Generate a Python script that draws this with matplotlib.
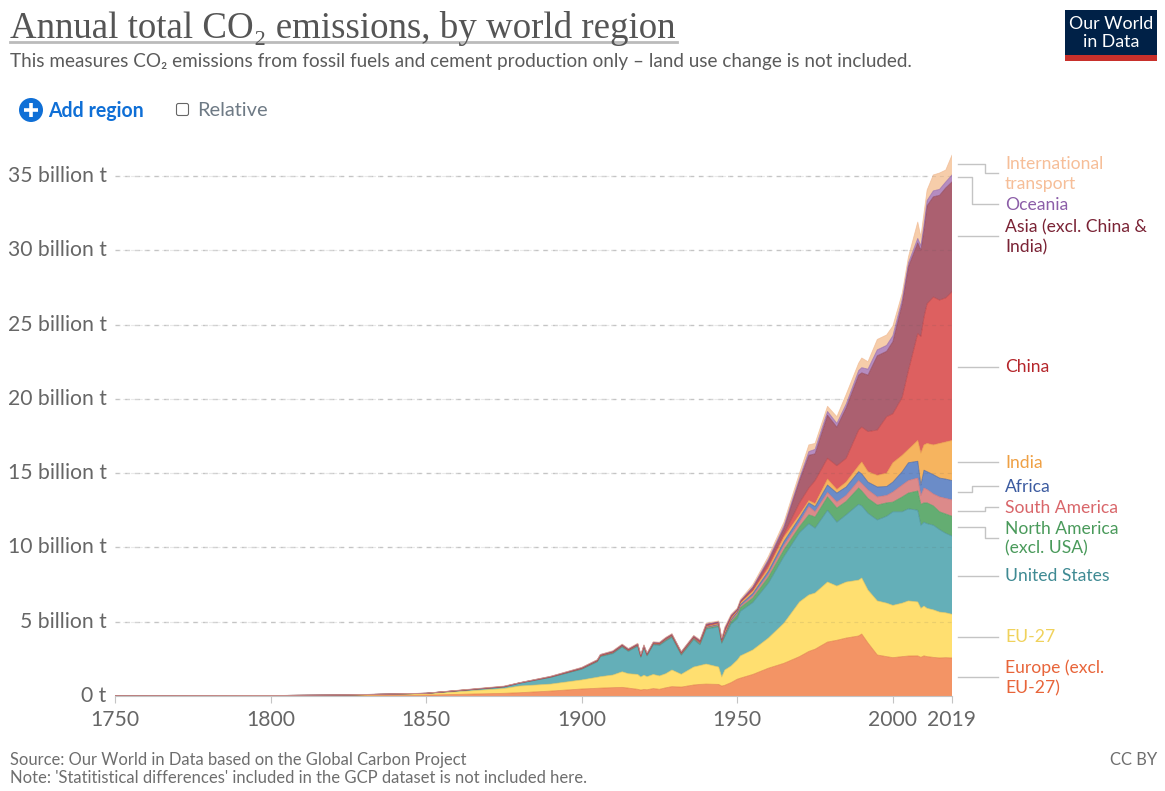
import numpy as np
import matplotlib
matplotlib.use("Agg")
import matplotlib.pyplot as plt
from matplotlib.patches import Rectangle, Circle, FancyBboxPatch
from matplotlib.transforms import ScaledTranslation

plt.rcParams['font.family'] = ['Lato', 'DejaVu Sans']

# values, billion tonnes, each list is the top edge of its band
years = [1750, 1800, 1825, 1850, 1875, 1880, 1890, 1900, 1905, 1906,
         1910, 1913, 1915, 1918, 1919, 1920, 1921, 1923, 1925, 1927,
         1929, 1932, 1936, 1938, 1940, 1944, 1945, 1946, 1948, 1950,
         1951, 1955, 1960, 1965, 1970, 1973, 1975, 1979, 1982, 1985,
         1989, 1990, 1992, 1995, 1998, 2000, 2003, 2005, 2008, 2009,
         2010, 2011, 2013, 2015, 2017, 2019]
europe = [.0, .01, .02, .06, .18, .22, .33, .47, .52, .53,
          .56, .58, .53, .45, .40, .44, .42, .5, .45, .55,
          .63, .6, .74, .78, .8, .78, .67, .72, .9, 1.13,
          1.2, 1.45, 1.87, 2.2, 2.65, 3.0, 3.15, 3.63, 3.75, 3.9,
          4.04, 4.17, 3.57, 2.76, 2.65, 2.58, 2.65, 2.69, 2.7, 2.6,
          2.7, 2.65, 2.6, 2.56, 2.58, 2.56]
eu27 = [.005, .02, .05, .14, .5, .67, .8, 1.08, 1.26, 1.3,
        1.41, 1.63, 1.5, 1.45, 1.28, 1.4, 1.3, 1.45, 1.35, 1.5,
        1.75, 1.46, 1.95, 2.05, 2.15, 1.95, 1.28, 1.75, 2.02, 2.42,
        2.7, 3.1, 3.9, 4.9, 6.33, 6.8, 6.93, 7.67, 7.4, 7.67,
        7.8, 7.94, 7.13, 6.4, 6.25, 6.1, 6.25, 6.4, 6.33, 5.9,
        6.05, 5.9, 5.8, 5.65, 5.6, 5.5]
usa = [.006, .03, .07, .18, .6, .85, 1.25, 1.8, 2.3, 2.65,
       2.85, 3.3, 3.0, 3.35, 2.6, 3.25, 2.7, 3.45, 3.4, 3.7,
       3.95, 2.75, 3.8, 3.45, 4.5, 4.65, 3.55, 4.0, 4.85, 5.2,
       5.7, 6.3, 7.6, 9.4, 11.0, 11.6, 11.3, 12.5, 11.7, 12.2,
       12.9, 12.8, 12.3, 11.85, 12.1, 12.4, 12.4, 12.6, 12.5, 11.5,
       11.7, 11.6, 11.5, 11.2, 10.95, 10.77]
north_america = [.006, .03, .07, .18, .62, .87, 1.27, 1.82, 2.33, 2.68,
                 2.89, 3.34, 3.04, 3.39, 2.64, 3.29, 2.74, 3.49, 3.45, 3.75,
                 4.0, 2.8, 3.85, 3.5, 4.57, 4.72, 3.6, 4.08, 5.0, 5.45,
                 5.95, 6.6, 8.0, 9.85, 11.4, 12.2, 12.05, 13.4, 12.65, 13.1,
                 14.0, 13.8, 13.3, 12.85, 13.0, 13.05, 13.4, 13.66, 13.8, 12.9,
                 13.0, 13.0, 12.8, 12.4, 12.25, 12.1]
south_america = [.006, .03, .07, .18, .62, .87, 1.27, 1.83, 2.34, 2.69,
                 2.9, 3.35, 3.05, 3.4, 2.65, 3.3, 2.75, 3.5, 3.47, 3.77,
                 4.02, 2.82, 3.88, 3.53, 4.6, 4.77, 3.63, 4.12, 5.08, 5.55,
                 6.05, 6.75, 8.2, 10.15, 11.7, 12.75, 12.4, 13.7, 13.05, 13.5,
                 14.5, 14.3, 13.87, 13.4, 13.5, 13.73, 14.2, 14.5, 14.67, 13.5,
                 14.0, 13.9, 13.6, 13.4, 13.3, 13.2]
africa = [.006, .03, .07, .18, .62, .87, 1.28, 1.84, 2.35, 2.7,
          2.92, 3.37, 3.07, 3.42, 2.67, 3.32, 2.77, 3.52, 3.49, 3.8,
          4.05, 2.85, 3.92, 3.57, 4.64, 4.82, 3.68, 4.17, 5.15, 5.65,
          6.15, 6.9, 8.4, 10.4, 12.0, 13.0, 12.75, 14.2, 13.66, 14.07,
          15.1, 14.95, 14.4, 14.07, 14.1, 14.4, 15.1, 15.7, 15.8, 14.2,
          15.2, 15.1, 14.9, 14.67, 14.6, 14.5]
india = [.006, .03, .07, .18, .63, .88, 1.29, 1.86, 2.37, 2.72,
         2.95, 3.4, 3.1, 3.45, 2.7, 3.35, 2.8, 3.55, 3.52, 3.83,
         4.08, 2.88, 3.95, 3.6, 4.68, 4.87, 3.72, 4.3, 5.22, 5.75,
         6.28, 7.05, 8.6, 10.7, 12.2, 13.15, 12.95, 14.6, 13.9, 14.4,
         15.5, 15.75, 15.1, 14.85, 15.0, 15.7, 16.2, 16.6, 17.2, 16.35,
         16.9, 17.0, 16.9, 17.0, 17.1, 17.2]
china = [.006, .03, .07, .18, .63, .88, 1.29, 1.87, 2.38, 2.73,
         2.96, 3.41, 3.11, 3.46, 2.71, 3.36, 2.81, 3.56, 3.53, 3.85,
         4.1, 2.9, 3.97, 3.63, 4.72, 4.93, 3.75, 4.38, 5.3, 5.78,
         6.32, 7.15, 8.85, 10.9, 13.0, 14.0, 14.5, 16.0, 15.5, 16.0,
         17.9, 18.1, 17.8, 17.9, 18.8, 19.0, 20.1, 21.9, 24.4, 24.2,
         25.5, 26.4, 26.85, 26.65, 26.8, 27.2]
asia = [.007, .03, .075, .185, .64, .89, 1.31, 1.9, 2.42, 2.78,
        3.0, 3.45, 3.15, 3.5, 2.75, 3.4, 2.85, 3.6, 3.58, 3.9,
        4.15, 2.96, 4.03, 3.72, 4.82, 4.98, 3.82, 4.53, 5.4, 5.83,
        6.38, 7.3, 9.1, 11.3, 14.5, 16.2, 16.3, 18.9, 18.1, 19.4,
        21.6, 21.75, 21.6, 22.9, 23.2, 23.85, 26.4, 28.9, 30.5, 30.0,
        31.4, 33.0, 33.6, 33.7, 34.2, 34.6]
oceania = [.008, .03, .078, .187, .65, .89, 1.32, 1.91, 2.43, 2.79,
           3.02, 3.47, 3.17, 3.52, 2.77, 3.42, 2.87, 3.62, 3.6, 3.92,
           4.17, 2.98, 4.05, 3.74, 4.84, 5.0, 3.84, 4.56, 5.43, 5.85,
           6.41, 7.35, 9.2, 11.45, 14.65, 16.45, 16.6, 19.15, 18.35, 19.65,
           21.9, 22.1, 22.0, 23.3, 23.6, 24.25, 26.7, 29.15, 30.8, 30.3,
           31.7, 33.35, 34.0, 34.1, 34.6, 35.07]
transport = [.01, .03, .08, .19, .67, .9, 1.33, 1.93, 2.45, 2.8,
             3.05, 3.5, 3.2, 3.55, 2.8, 3.45, 2.9, 3.65, 3.62, 3.95,
             4.2, 3.0, 4.08, 3.8, 4.9, 5.05, 3.9, 4.66, 5.5, 5.92,
             6.5, 7.5, 9.4, 11.7, 15.0, 16.9, 17.0, 19.5, 18.8, 20.3,
             22.4, 22.75, 22.5, 24.0, 24.3, 24.9, 27.1, 29.55, 31.9, 30.9,
             32.5, 34.05, 35.07, 35.2, 35.4, 36.4]

bands = [europe, eu27, usa, north_america, south_america, africa,
         india, china, asia, oceania, transport]
fills = ['#F39465', '#FFDF70', '#64AFB8', '#64AD72', '#DC8A8A', '#6B8CC8',
         '#F6B45F', '#DD6060', '#AB6070', '#B58CC0', '#F6CDAA']
edges = ['#E07840', '#E8C450', '#3F8A93', '#4A9A5B', '#D06A6E', '#3C5BA0',
         '#E9983C', '#B5383C', '#8A3A50', '#8C5EA8', '#F0B890']

y_ticks = [0, 5, 10, 15, 20, 25, 30, 35]
y_tick_labels = ['0 t', '5 billion t', '10 billion t', '15 billion t',
                 '20 billion t', '25 billion t', '30 billion t', '35 billion t']
x_ticks = [1750, 1800, 1850, 1900, 1950, 2000, 2019]

# text of the right hand labels, one entry per printed line
label_lines = [('International', 164, '#F6BE98'), ('transport', 184, '#F6BE98'),
               ('Oceania', 205, '#8C5EA8'),
               ('Asia (excl. China &', 227, '#7A2335'), ('India)', 247, '#7A2335'),
               ('China', 367, '#B5262B'), ('India', 463, '#EFA044'),
               ('Africa', 487, '#3C5BA0'), ('South America', 508, '#D9666A'),
               ('North America', 529, '#4A9A5B'), ('(excl. USA)', 548, '#4A9A5B'),
               ('United States', 576, '#3F8A93'), ('EU-27', 637, '#F0D25C'),
               ('Europe (excl.', 668, '#E8653A'), ('EU-27)', 688, '#E8653A')]
connectors = [([958, 985, 985, 998], [164, 164, 173, 173]),
              ([958, 972, 972, 998], [177, 177, 204, 204]),
              ([958, 998], [236, 236]), ([958, 998], [367, 367]),
              ([958, 998], [462, 462]),
              ([958, 972, 972, 998], [492, 492, 486, 486]),
              ([958, 985, 985, 998], [511, 511, 507, 507]),
              ([958, 985, 985, 998], [527, 527, 538, 538]),
              ([958, 998], [576, 576]), ([958, 998], [637, 637]),
              ([958, 998], [677, 677])]

W, H = 1165, 791
fig = plt.figure(figsize=(W / 100, H / 100), dpi=100, facecolor='white')

# overlay in pixel coordinates for everything round the plot
page = fig.add_axes([0, 0, 1, 1])
page.set_xlim(0, W)
page.set_ylim(H, 0)
page.axis('off')

ax = fig.add_axes([115 / W, (H - 696) / H, 837 / W, 556 / H])
ax.set_xlim(1750, 2019)
ax.set_ylim(0, 556 / 14.857)
ax.patch.set_alpha(0)

lower = np.zeros(len(years))
for top, fc, ec in zip(bands, fills, edges):
    top = np.array(top)
    ax.fill_between(years, lower, top, facecolor=fc, edgecolor='none', zorder=2)
    ax.plot(years, top, color=ec, lw=0.6, alpha=0.7, zorder=3)
    lower = top

for v in y_ticks[1:]:
    ax.axhline(v, color='#D4D4D4', lw=1, ls=(0, (3.5, 3.5)), zorder=1)
    ax.axhline(v, color='#555555', lw=0.8, ls=(0, (3.5, 3.5)), alpha=0.12, zorder=4)

for s in ['top', 'right', 'left']:
    ax.spines[s].set_visible(False)
ax.spines['bottom'].set_color('#C4C4C4')
ax.set_xticks(x_ticks)
ax.set_xticklabels([str(x) for x in x_ticks], fontsize=15.2, color='#666666')
ax.set_yticks(y_ticks)
ax.set_yticklabels(y_tick_labels, fontsize=15.2, color='#666666')
ax.tick_params(axis='x', length=5, color='#C4C4C4', pad=5)
ax.tick_params(axis='y', length=0, pad=6)
for lab in ax.get_yticklabels():
    lab.set_transform(lab.get_transform() + ScaledTranslation(0, 2 / 100, fig.dpi_scale_trans))

# title block
page.text(10, 38, 'Annual total CO₂ emissions, by world region',
          family=['Liberation Serif', 'DejaVu Serif'], fontsize=26.6, color='#555555',
          ha='left', va='baseline')
page.plot([10, 677], [42, 42], color='#BBBBBB', lw=2)
page.text(10, 61.5, 'This measures CO₂ emissions from fossil fuels and cement production only – land use change is not included.',
          fontsize=13.55, color='#5B5B5B', ha='left', va='center')

# add region and relative controls
page.add_patch(Circle((31, 110), 12, facecolor='#0F6FD6', edgecolor='none'))
page.plot([24, 38], [110, 110], color='white', lw=2.6, solid_capstyle='butt')
page.plot([31, 31], [103, 117], color='white', lw=2.6, solid_capstyle='butt')
page.text(48, 111, 'Add region', fontsize=14.05, fontweight='bold', color='#0F6FD6',
          ha='left', va='center')
page.add_patch(FancyBboxPatch((176.5, 103.5), 12, 12, boxstyle='round,pad=0,rounding_size=2',
                              facecolor='white', edgecolor='#666666', lw=0.8))
page.text(197, 111, 'Relative', fontsize=14.4, color='#6E7A85', ha='left', va='center')

# logo
page.add_patch(Rectangle((1065, 10), 92, 51, facecolor='#002147', edgecolor='none'))
page.add_patch(Rectangle((1065, 55), 92, 6, facecolor='#C8302B', edgecolor='none'))
page.text(1111, 24, 'Our World', fontsize=12.8, color='white', ha='center', va='center')
page.text(1111, 42, 'in Data', fontsize=12.8, color='white', ha='center', va='center')

for xs, ys in connectors:
    page.plot(xs, ys, color='#C4C4C4', lw=1)
for txt, y, col in label_lines:
    page.text(1005, y, txt, fontsize=12.65, color=col, ha='left', va='center')

page.text(10, 760, 'Source: Our World in Data based on the Global Carbon Project',
          fontsize=11.9, color='#6E6E6E', ha='left', va='center')
page.text(10, 778, "Note: 'Statitistical differences' included in the GCP dataset is not included here.",
          fontsize=11.95, color='#6E6E6E', ha='left', va='center')
page.text(1157, 760, 'CC BY', fontsize=11.9, color='#6E6E6E', ha='right', va='center')

fig.savefig('out.png', dpi=100)
